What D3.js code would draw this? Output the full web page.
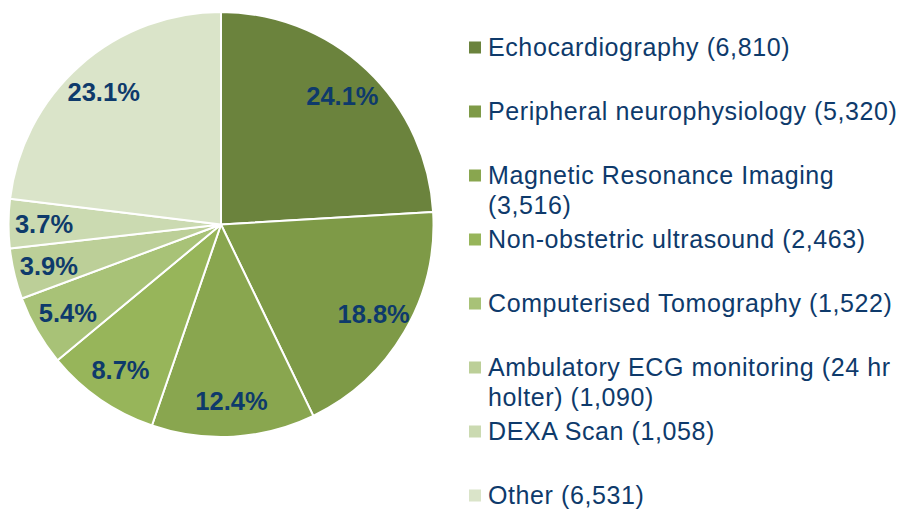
<!DOCTYPE html>
<html lang="en">
<head>
  <meta charset="UTF-8" />
  <title>Tests by modality</title>
  <script src="https://d3js.org/d3.v7.min.js"></script>
  <style>
    body {
      margin: 0;
      padding: 0;
      background: #ffffff;
    }
    #chart {
      width: 901px;
      height: 513px;
    }
    text {
      font-family: Arial, "Liberation Sans", sans-serif;
    }
  </style>
</head>
<body>
  <div id="chart"></div>

  <script>
    // Categories and counts
    const categories = [
      "Echocardiography",
      "Peripheral neurophysiology",
      "Magnetic Resonance Imaging",
      "Non-obstetric ultrasound",
      "Computerised Tomography",
      "Ambulatory ECG monitoring (24 hr holter)",
      "DEXA Scan",
      "Other"
    ];
    const counts = [6810, 5320, 3516, 2463, 1522, 1090, 1058, 6531];
    const colours = [
      "#6b833d", "#7e9a47", "#89a64f", "#97b55a",
      "#a8c277", "#bccf98", "#cbdab1", "#dae4c9"
    ];

    const width = 901, height = 513;
    const cx = 221, cy = 224.5, radius = 212.5;
    const labelColour = "#0e3a6b";

    const svg = d3.select("#chart")
      .append("svg")
      .attr("width", width)
      .attr("height", height);

    const data = categories.map((c, i) => ({ name: c, value: counts[i] }));
    const total = d3.sum(counts);

    const pie = d3.pie()
      .value(d => d.value)
      .sort(null);

    const arcs = pie(data);

    const arcGen = d3.arc()
      .innerRadius(0)
      .outerRadius(radius);

    // labels sit a bit outside the middle of each slice
    const labelArc = d3.arc()
      .innerRadius(177)
      .outerRadius(177);

    const g = svg.append("g")
      .attr("transform", `translate(${cx},${cy})`);

    g.selectAll("path")
      .data(arcs)
      .enter()
      .append("path")
      .attr("d", arcGen)
      .attr("fill", (d, i) => colours[i])
      .attr("stroke", "#ffffff")
      .attr("stroke-width", 2)
      .attr("stroke-linejoin", "round");

    const fmtPct = d3.format(".1%");

    g.selectAll(".pct")
      .data(arcs)
      .enter()
      .append("text")
      .attr("class", "pct")
      .attr("transform", d => `translate(${labelArc.centroid(d)})`)
      .attr("text-anchor", "middle")
      .attr("dy", "0.36em")
      .attr("fill", labelColour)
      .style("font-size", "25.5px")
      .style("font-weight", "bold")
      .text(d => fmtPct(d.value / total));

    // Legend
    const fmtCount = d3.format(",");
    const legendX = 469, legendY = 47.5, rowStep = 64, lineStep = 30, maxWidth = 418;

    const legend = svg.selectAll(".legend")
      .data(data)
      .enter()
      .append("g")
      .attr("class", "legend")
      .attr("transform", (d, i) => `translate(${legendX},${legendY + i * rowStep})`);

    legend.append("rect")
      .attr("x", 0)
      .attr("y", -6)
      .attr("width", 12)
      .attr("height", 12)
      .attr("fill", (d, i) => colours[i]);

    legend.each(function (d) {
      const text = d3.select(this).append("text")
        .attr("fill", labelColour)
        .style("font-size", "25px")
        .style("letter-spacing", "0.6px");

      const words = `${d.name} (${fmtCount(d.value)})`.split(" ");
      let line = [];
      let lineNo = 0;
      let tspan = text.append("tspan").attr("x", 19).attr("y", 0).attr("dy", "0.35em");
      words.forEach(w => {
        line.push(w);
        tspan.text(line.join(" "));
        if (tspan.node().getComputedTextLength() > maxWidth && line.length > 1) {
          line.pop();
          tspan.text(line.join(" "));
          line = [w];
          lineNo++;
          tspan = text.append("tspan")
            .attr("x", 19)
            .attr("y", lineNo * lineStep)
            .attr("dy", "0.35em")
            .text(w);
        }
      });
    });
  </script>
</body>
</html>
